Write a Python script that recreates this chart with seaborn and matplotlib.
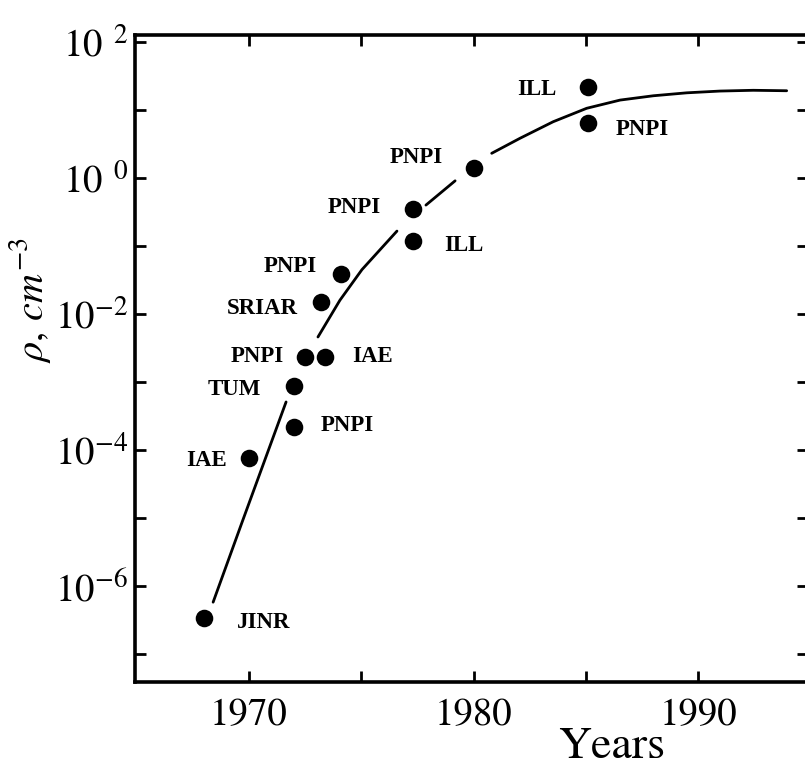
import numpy as np
import pandas as pd
import matplotlib
matplotlib.use("Agg")
import matplotlib.pyplot as plt
import seaborn as sns

# ---------------- data ----------------
point_years = [1968.0, 1970.0, 1972.0, 1972.0, 1972.5, 1973.4, 1973.2,
               1974.1, 1977.3, 1977.3, 1980.0, 1985.1, 1985.1]
point_density = [3.4e-7, 7.6e-5, 2.2e-4, 8.7e-4, 2.3e-3, 2.3e-3, 1.5e-2,
                 3.9e-2, 1.2e-1, 3.5e-1, 1.4, 22.0, 6.5]
point_labels = ["JINR", "IAE", "PNPI", "TUM", "PNPI", "IAE", "SRIAR",
                "PNPI", "ILL", "PNPI", "PNPI", "ILL", "PNPI"]

curve_years = [1968.40, 1969.69, 1970.36, 1971.65,
               1973.07, 1974.05, 1975.03, 1976.59,
               1977.88, 1979.18,
               1980.81, 1982.07, 1983.55, 1985.04, 1986.53, 1988.01,
               1989.50, 1990.98, 1992.46, 1993.95]
curve_density = [5.8e-7, 8.7e-6, 3.5e-5, 5.1e-4,
                 4.6e-3, 1.6e-2, 4.5e-2, 0.166,
                 0.40, 0.91,
                 2.31, 3.84, 6.73, 10.6, 14.0, 16.2,
                 17.9, 19.0, 19.5, 19.2]
curve_piece = [0, 0, 0, 0, 1, 1, 1, 1, 2, 2,
               3, 3, 3, 3, 3, 3, 3, 3, 3, 3]

x_major_ticks = [1970, 1980, 1990]
x_minor_ticks = [1975, 1985]
y_exponents = list(range(-7, 3))

# ---------------- layout (label offsets in pixels) ----------------
label_offsets = [(33, -5, "left"), (-22, -2, "right"), (27, 1, "left"),
                 (-33, -3, "right"), (-21, 1, "right"), (27, 1, "left"),
                 (-23, -6, "right"), (-24, 7, "right"), (31, -5, "left"),
                 (-32, 2, "right"), (-31, 11, "right"), (-32, -3, "right"),
                 (28, -7, "left")]

sns.set_theme(style="ticks")
plt.rcParams["font.family"] = ["STIXGeneral", "DejaVu Sans"]
plt.rcParams["mathtext.fontset"] = "stix"
plt.rcParams["axes.edgecolor"] = "black"
plt.rcParams["text.color"] = "black"
plt.rcParams["xtick.color"] = "black"
plt.rcParams["ytick.color"] = "black"

fig = plt.figure(figsize=(8.05, 7.7), dpi=100)
W, H = 805, 770
ax = fig.add_axes([135 / W, 1 - 682 / H, (808 - 135) / W, (682 - 35) / H])

curve_df = pd.DataFrame({"year": curve_years, "rho": curve_density, "piece": curve_piece})
sns.lineplot(data=curve_df, x="year", y="rho", units="piece", estimator=None,
             sort=False, color="black", linewidth=2.0, ax=ax, legend=False)

pts_df = pd.DataFrame({"year": point_years, "rho": point_density, "lab": point_labels})
sns.scatterplot(data=pts_df, x="year", y="rho", s=160, color="black",
                edgecolor="black", linewidth=0, ax=ax, legend=False, zorder=3)

ax.set_yscale("log")
ax.set_xlim(1964.92, 1994.9)
ax.set_ylim(10 ** -7.41, 10 ** 2.103)

for (x, y, lab), (dx, dy, ha) in zip(zip(point_years, point_density, point_labels), label_offsets):
    ax.annotate(lab, xy=(x, y), xytext=(dx, dy), textcoords="offset pixels",
                ha=ha, va="center", fontsize=16.5, fontweight="bold", color="black",
                family=["Liberation Serif", "DejaVu Serif"])

# ticks
def ylab(e):
    if e % 2:
        return ""
    if e < 0:
        return r"$10^{-%d}$" % (-e)
    return r"$10^{\;\;%d}$" % e

ax.set_yticks([10.0 ** e for e in y_exponents])
ax.set_yticklabels([ylab(e) for e in y_exponents])
ax.yaxis.set_minor_locator(matplotlib.ticker.NullLocator())
ax.set_xticks(x_major_ticks)
ax.set_xticklabels([str(t) for t in x_major_ticks])
ax.set_xticks(x_minor_ticks, minor=True)

ax.tick_params(axis="both", which="both", direction="in", width=2, length=8,
               top=True, right=True, labelsize=28, colors="black")
ax.tick_params(axis="y", pad=5)
ax.tick_params(axis="x", pad=12)

for sp in ax.spines.values():
    sp.set_linewidth(2.6)
    sp.set_color("black")

ax.set_xlabel("")
ax.set_ylabel("")
fig.text(612 / W, 1 - 768 / H, "Years", ha="center", va="bottom", fontsize=33,
         color="black")
fig.text(30 / W, 1 - 300 / H, r"$\rho,\, cm^{-3}$", ha="center", va="center",
         rotation=90, fontsize=29, color="black")

fig.savefig("out.png", dpi=100, facecolor="white")
